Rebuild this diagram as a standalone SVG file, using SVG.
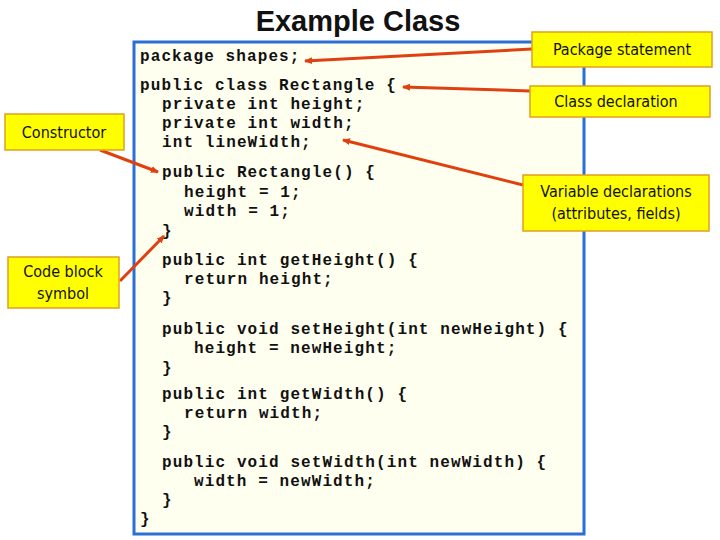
<svg xmlns="http://www.w3.org/2000/svg" width="720" height="540" viewBox="0 0 720 540">
<defs>
<marker id="ah" markerWidth="8" markerHeight="8" refX="7" refY="4" orient="auto" markerUnits="userSpaceOnUse"><path d="M0,0.5 L8,4 L0,7.5 Z" fill="#e04010"/></marker>
<style>
.code{font-family:"Liberation Mono",monospace;font-size:16px;font-weight:bold;letter-spacing:1.1px;fill:#111}
.lbl{fill:#ffff00;stroke:#e0a020;stroke-width:1.5}
.lt{font-family:"DejaVu Sans Condensed","DejaVu Sans",sans-serif;font-size:16px;fill:#111;text-anchor:middle}
.con{stroke:#e04010;stroke-width:3;fill:none;marker-end:url(#ah)}
</style>
</defs>
<rect width="720" height="540" fill="#fff"/>
<text x="358" y="31" font-family="Liberation Sans,Arial,sans-serif" font-size="29" font-weight="bold" text-anchor="middle" fill="#111">Example Class</text>
<g id="code">
<rect x="134" y="42" width="450" height="492" fill="#fffff0" stroke="#2a6fd6" stroke-width="3"/>
<text class="code" x="140" y="61">package shapes;</text>
<text class="code" x="140" y="90">public class Rectangle {</text>
<text class="code" x="162" y="109">private int height;</text>
<text class="code" x="162" y="128">private int width;</text>
<text class="code" x="162" y="147">int lineWidth;</text>
<text class="code" x="162" y="177">public Rectangle() {</text>
<text class="code" x="184" y="197">height = 1;</text>
<text class="code" x="184" y="216">width = 1;</text>
<text class="code" x="162" y="236">}</text>
<text class="code" x="162" y="265">public int getHeight() {</text>
<text class="code" x="184" y="284">return height;</text>
<text class="code" x="162" y="303">}</text>
<text class="code" x="162" y="334">public void setHeight(int newHeight) {</text>
<text class="code" x="194" y="353">height = newHeight;</text>
<text class="code" x="162" y="373">}</text>
<text class="code" x="162" y="399">public int getWidth() {</text>
<text class="code" x="184" y="418">return width;</text>
<text class="code" x="162" y="437">}</text>
<text class="code" x="162" y="467">public void setWidth(int newWidth) {</text>
<text class="code" x="194" y="486">width = newWidth;</text>
<text class="code" x="162" y="505">}</text>
<text class="code" x="140" y="524">}</text>
</g>
<g id="connectors">
<path class="con" d="M532,49 L305,61"/>
<path class="con" d="M530,91 L403,87"/>
<path class="con" d="M523,185 L343,140"/>
<path class="con" d="M100,150 L158,172"/>
<path class="con" d="M120,281 L164,236"/>
</g>
<g id="package"><rect class="lbl" x="532" y="32" width="180" height="35"/><text class="lt" x="622" y="55">Package statement</text></g>
<g id="classdecl"><rect class="lbl" x="530" y="86" width="180" height="31"/><text class="lt" x="616" y="107">Class declaration</text></g>
<g id="vars"><rect class="lbl" x="523" y="175" width="186" height="56"/><text class="lt" x="616" y="197">Variable declarations</text><text class="lt" x="616" y="219">(attributes, fields)</text></g>
<g id="constructor"><rect class="lbl" x="5" y="114" width="119" height="36"/><text class="lt" x="64" y="138">Constructor</text></g>
<g id="codeblock"><rect class="lbl" x="8" y="257" width="111" height="51"/><text class="lt" x="63" y="277">Code block</text><text class="lt" x="63" y="299">symbol</text></g>
</svg>
